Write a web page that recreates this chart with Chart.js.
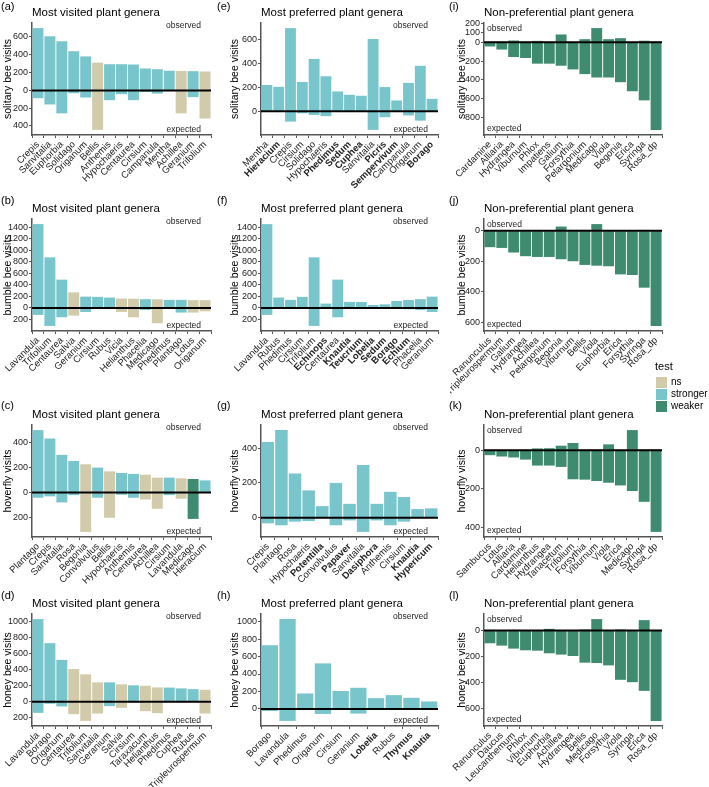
<!DOCTYPE html>
<html>
<head>
<meta charset="utf-8">
<script src="https://cdn.jsdelivr.net/npm/chart.js@4.4.0/dist/chart.umd.min.js"></script>
<style>
  body { margin: 0; background: #fff; }
  #page { position: relative; width: 709px; height: 787px; overflow: hidden; font-family: "Liberation Sans", Arial, sans-serif; color: #000; }
  canvas { position: absolute; }
  .tag { position: absolute; font-size: 11px; }
  .legend-title { position: absolute; font-size: 11px; }
  .key { position: absolute; width: 11px; height: 11px; }
  .key-label { position: absolute; font-size: 10px; }
</style>
</head>
<body>
<div id="page"></div>
<script>
// ---- data ----
// solitary bees
const aGenera = ['Crepis', 'Sanvitalia', 'Euphorbia', 'Solidago', 'Origanum', 'Bellis', 'Anthemis', 'Hypochaeris', 'Centaurea', 'Cirsium', 'Campanula', 'Mentha', 'Achillea', 'Geranium', 'Trifolium'];
const aObserved = [700, 608, 552, 440, 382, 312, 294, 294, 291, 246, 238, 221, 219, 216, 212];
const aExpected = [88, 158, 258, 32, 80, 444, 110, 42, 110, 18, 36, 6, 258, 76, 316];
const aTest = ['stronger', 'stronger', 'stronger', 'stronger', 'stronger', 'ns', 'stronger', 'stronger', 'stronger', 'stronger', 'stronger', 'stronger', 'ns', 'stronger', 'ns'];
const aTicks = [600, 400, 200, 0, -200, -400];

const eGenera = ['Mentha', 'Hieracium', 'Crepis', 'Cirsium', 'Solidago', 'Hypochaeris', 'Phedimus', 'Sedum', 'Cuphea', 'Sanvitalia', 'Picris', 'Sempervivum', 'Campanula', 'Origanum', 'Borago'];
const eObserved = [221, 205, 700, 246, 440, 294, 166, 138, 130, 608, 203, 90, 238, 382, 104];
const eExpected = [6, 2, 88, 18, 32, 42, 3, 2, 2, 158, 51, 2, 36, 80, 2];
const eTest = eGenera.map(() => 'stronger');
const eBold = ['Hieracium', 'Phedimus', 'Sedum', 'Cuphea', 'Picris', 'Sempervivum', 'Borago'];
const eTicks = [600, 400, 200, 0];

const iGenera = ['Cardamine', 'Alliaria', 'Hydrangea', 'Viburnum', 'Phlox', 'Impatiens', 'Galium', 'Forsythia', 'Pelargonium', 'Medicago', 'Viola', 'Begonia', 'Erica', 'Syringa', 'Rosa_dp'];
const iObserved = [2, 3, 18, 4, 14, 6, 82, 5, 32, 150, 32, 43, 6, 16, 8];
const iExpected = [45, 78, 157, 168, 228, 228, 250, 289, 339, 375, 375, 425, 521, 618, 932];
const iTest = iGenera.map(() => 'weaker');
const iTicks = [200, 100, 0, -200, -400, -600, -800];

// bumble bees
const bGenera = ['Lavandula', 'Trifolium', 'Centaurea', 'Salvia', 'Geranium', 'Cirsium', 'Rubus', 'Vicia', 'Helianthus', 'Phacelia', 'Medicago', 'Phedimus', 'Plantago', 'Lotus', 'Origanum'];
const bObserved = [1452, 876, 490, 270, 196, 192, 180, 162, 160, 152, 150, 140, 140, 135, 135];
const bExpected = [121, 311, 161, 133, 69, 8, 3, 69, 161, 35, 265, 3, 80, 80, 58];
const bTest = ['stronger', 'stronger', 'stronger', 'ns', 'stronger', 'stronger', 'stronger', 'ns', 'ns', 'stronger', 'ns', 'stronger', 'stronger', 'ns', 'ns'];
const bTicks = [1400, 1200, 1000, 800, 600, 400, 200, 0, -200];

const fGenera = ['Lavandula', 'Rubus', 'Phedimus', 'Cirsium', 'Trifolium', 'Echinops', 'Centaurea', 'Knautia', 'Teucrium', 'Lobelia', 'Sedum', 'Borago', 'Echium', 'Phacelia', 'Geranium'];
const fObserved = [1452, 180, 140, 192, 876, 75, 490, 104, 104, 52, 63, 121, 138, 152, 196];
const fExpected = [121, 3, 3, 8, 311, 2, 161, 2, 2, 2, 2, 2, 22, 35, 69];
const fTest = fGenera.map(() => 'stronger');
const fBold = ['Echinops', 'Knautia', 'Teucrium', 'Lobelia', 'Sedum', 'Borago', 'Echium'];
const fTicks = [1400, 1200, 1000, 800, 600, 400, 200, 0, -200];

const jGenera = ['Ranunculus', 'Tripleurospermum', 'Galium', 'Hydrangea', 'Achillea', 'Pelargonium', 'Begonia', 'Viburnum', 'Bellis', 'Viola', 'Euphorbia', 'Erica', 'Forsythia', 'Syringa', 'Rosa_dp'];
const jObserved = [2, 2, 3, 4, 5, 5, 28, 6, 6, 44, 5, 3, 5, 6, 5];
const jExpected = [107, 112, 142, 166, 171, 171, 186, 199, 223, 228, 232, 285, 289, 372, 622];
const jTest = jGenera.map(() => 'weaker');
const jTicks = [0, -200, -400, -600];

// hoverflies
const cGenera = ['Plantago', 'Crepis', 'Sanvitalia', 'Rosa', 'Begonia', 'Convolvulus', 'Bellis', 'Hypochaeris', 'Anthemis', 'Centaurea', 'Achillea', 'Cirsium', 'Lavandula', 'Medicago', 'Hieracium'];
const cObserved = [503, 435, 303, 254, 227, 200, 170, 157, 149, 143, 119, 119, 114, 108, 97];
const cExpected = [43, 32, 81, 22, 319, 43, 205, 19, 43, 57, 132, 22, 51, 214, 2];
const cTest = ['stronger', 'stronger', 'stronger', 'stronger', 'ns', 'stronger', 'ns', 'stronger', 'stronger', 'ns', 'ns', 'stronger', 'ns', 'weaker', 'stronger'];
const cTicks = [400, 200, 0, -200];

const gGenera = ['Crepis', 'Plantago', 'Rosa', 'Hypochaeris', 'Potentilla', 'Convolvulus', 'Papaver', 'Sanvitalia', 'Dasiphora', 'Anthemis', 'Cirsium', 'Knautia', 'Hypericum'];
const gObserved = [435, 503, 254, 157, 67, 200, 80, 303, 80, 149, 119, 50, 54];
const gExpected = [32, 43, 22, 19, 2, 43, 15, 81, 15, 43, 22, 2, 2];
const gTest = gGenera.map(() => 'stronger');
const gBold = ['Potentilla', 'Papaver', 'Dasiphora', 'Knautia', 'Hypericum'];
const gTicks = [400, 200, 0];

const kGenera = ['Sambucus', 'Lotus', 'Alliaria', 'Cardamine', 'Helianthus', 'Hydrangea', 'Tanacetum', 'Trifolium', 'Forsythia', 'Viburnum', 'Viola', 'Erica', 'Medicago', 'Syringa', 'Rosa_dp'];
const kObserved = [2, 2, 3, 3, 9, 10, 23, 37, 4, 5, 30, 3, 104, 5, 5];
const kExpected = [26, 33, 38, 49, 80, 80, 87, 151, 153, 160, 169, 183, 212, 268, 424];
const kTest = kGenera.map(() => 'weaker');
const kTicks = [0, -200, -400];

// honey bees
const dGenera = ['Lavandula', 'Borago', 'Origanum', 'Centaurea', 'Trifolium', 'Sanvitalia', 'Geranium', 'Salvia', 'Cirsium', 'Taraxacum', 'Helianthus', 'Phedimus', 'Cuphea', 'Rubus', 'Tripleurospermum'];
const dObserved = [1030, 730, 522, 408, 342, 242, 242, 217, 205, 200, 179, 177, 167, 158, 150];
const dExpected = [138, 25, 58, 154, 238, 146, 54, 75, 10, 117, 142, 3, 3, 3, 146];
const dTest = ['stronger', 'stronger', 'stronger', 'ns', 'ns', 'ns', 'stronger', 'ns', 'stronger', 'ns', 'ns', 'stronger', 'stronger', 'stronger', 'ns'];
const dTicks = [1000, 800, 600, 400, 200, 0, -200];

const hGenera = ['Borago', 'Lavandula', 'Phedimus', 'Origanum', 'Cirsium', 'Geranium', 'Lobelia', 'Rubus', 'Thymus', 'Knautia'];
const hObserved = [730, 1030, 177, 522, 205, 242, 123, 158, 127, 85];
const hExpected = [25, 138, 3, 58, 10, 54, 2, 3, 2, 2];
const hTest = hGenera.map(() => 'stronger');
const hBold = ['Lobelia', 'Thymus', 'Knautia'];
const hTicks = [1000, 800, 600, 400, 200, 0];

const lGenera = ['Ranunculus', 'Daucus', 'Leucanthemum', 'Phlox', 'Viburnum', 'Euphorbia', 'Achillea', 'Hydrangea', 'Bellis', 'Medicago', 'Forsythia', 'Viola', 'Syringa', 'Erica', 'Rosa_dp'];
const lObserved = [5, 3, 5, 3, 3, 13, 3, 3, 8, 88, 3, 8, 3, 80, 3];
const lExpected = [98, 116, 139, 152, 155, 175, 185, 196, 247, 250, 268, 379, 397, 464, 695];
const lTest = lGenera.map(() => 'weaker');
const lTicks = [0, -200, -400, -600];

const testColors = { ns: '#d2cbab', stronger: '#79c5cc', weaker: '#3e8b6f' };

// ---- layout ----
const FONT = '"Liberation Sans", Arial, sans-serif';
const colAxis = [32, 261, 484];
const colRight = [211, 438, 662];
const colYTitle = [24, 26, 22];
const colLetter = [1, 217, 449];
const rowTop = [23, 219, 425, 614];
const rowLetter = [0, 194, 399, 589];
const plotH = 112;
const padTop = 24, padLeft = 34, padRight = 16, xBand = 64;

const page = document.getElementById('page');

// draws titles, the zero line and the observed / expected notes
const panelDeco = {
    id: 'panelDeco',
    afterDatasetsDraw(chart, args, opts) {
        const ctx = chart.ctx;
        const area = chart.chartArea;
        const y0 = chart.scales.y.getPixelForValue(0);
        ctx.save();
        ctx.strokeStyle = '#000';
        ctx.lineWidth = 2;
        ctx.beginPath();
        ctx.moveTo(area.left, y0);
        ctx.lineTo(area.right, y0);
        ctx.stroke();

        ctx.fillStyle = '#000';
        ctx.textBaseline = 'middle';
        ctx.textAlign = 'left';
        ctx.font = '11.5px ' + FONT;
        ctx.fillText(opts.title, area.left, area.top - 10);

        ctx.font = '8.5px ' + FONT;
        ctx.fillStyle = '#222';
        if (opts.side === 'right') {
            ctx.textAlign = 'right';
            ctx.fillText('observed', area.right - 10, area.top + 3);
            ctx.fillText('expected', area.right - 10, area.bottom - 5);
        } else {
            ctx.textAlign = 'left';
            ctx.fillText('observed', area.left + 3, area.top + 6);
            ctx.fillText('expected', area.left + 3, area.bottom - 6);
        }

        ctx.translate(area.left - opts.yOffset, (area.top + area.bottom) / 2);
        ctx.rotate(-Math.PI / 2);
        ctx.textAlign = 'center';
        ctx.fillStyle = '#000';
        ctx.font = '10.5px ' + FONT;
        ctx.fillText(opts.ylab, 0, 0);
        ctx.restore();
    }
};

function makePanel(p) {
    const col = p.col, row = p.row;
    const plotW = colRight[col] - colAxis[col];
    const canvas = document.createElement('canvas');
    canvas.width = plotW + padLeft + padRight;
    canvas.height = plotH + padTop + xBand;
    canvas.style.left = (colAxis[col] - padLeft) + 'px';
    canvas.style.top = (rowTop[row] - padTop) + 'px';
    page.appendChild(canvas);

    const letter = document.createElement('div');
    letter.className = 'tag';
    letter.textContent = '(' + p.id + ')';
    letter.style.left = colLetter[col] + 'px';
    letter.style.top = rowLetter[row] + 'px';
    page.appendChild(letter);

    // ggplot style limits: data range plus 5 % on each side
    const hi = Math.max(...p.obs);
    const lo = -Math.max(...p.exp);
    const pad = (hi - lo) * 0.05;

    new Chart(canvas, {
        type: 'bar',
        data: {
            labels: p.genera,
            datasets: [
                { label: 'observed', data: p.obs, backgroundColor: p.test.map(t => testColors[t]) },
                { label: 'expected', data: p.exp.map(v => -v), backgroundColor: p.test.map(t => testColors[t]) }
            ]
        },
        options: {
            responsive: false,
            animation: false,
            devicePixelRatio: 1,
            layout: { padding: { top: padTop, right: padRight, left: 0, bottom: 0 } },
            datasets: { bar: { barPercentage: 0.92, categoryPercentage: 1, borderWidth: 0 } },
            plugins: {
                legend: { display: false },
                tooltip: { enabled: false },
                panelDeco: { title: p.title, ylab: p.ylab, side: col === 2 ? 'left' : 'right', yOffset: colYTitle[col] }
            },
            scales: {
                x: {
                    stacked: true,
                    border: { display: true, color: '#555', width: 1.5 },
                    grid: { display: true, drawOnChartArea: false, tickLength: 3, color: '#555' },
                    ticks: {
                        autoSkip: false,
                        minRotation: 45,
                        maxRotation: 45,
                        padding: 1,
                        color: '#222',
                        font: (c) => ({ family: FONT, size: 9.5, weight: (p.bold || []).includes(p.genera[c.index]) ? 'bold' : 'normal' })
                    },
                    afterFit: (s) => { s.height = xBand; }
                },
                y: {
                    stacked: true,
                    min: lo - pad,
                    max: hi + pad,
                    border: { display: true, color: '#555', width: 1.5 },
                    grid: { display: true, drawOnChartArea: false, tickLength: 3, color: '#555' },
                    ticks: {
                        padding: 1,
                        color: '#222',
                        font: { family: FONT, size: 9 },
                        callback: (v) => Math.abs(v)
                    },
                    afterBuildTicks: (s) => { s.ticks = p.ticks.map(v => ({ value: v })); },
                    afterFit: (s) => { s.width = padLeft; }
                }
            }
        },
        plugins: [panelDeco]
    });
}

const panels = [
    { id: 'a', col: 0, row: 0, title: 'Most visited plant genera', ylab: 'solitary bee visits', genera: aGenera, obs: aObserved, exp: aExpected, test: aTest, ticks: aTicks },
    { id: 'e', col: 1, row: 0, title: 'Most preferred plant genera', ylab: 'solitary bee visits', genera: eGenera, obs: eObserved, exp: eExpected, test: eTest, bold: eBold, ticks: eTicks },
    { id: 'i', col: 2, row: 0, title: 'Non-preferential plant genera', ylab: 'solitary bee visits', genera: iGenera, obs: iObserved, exp: iExpected, test: iTest, ticks: iTicks },
    { id: 'b', col: 0, row: 1, title: 'Most visited plant genera', ylab: 'bumble bee visits', genera: bGenera, obs: bObserved, exp: bExpected, test: bTest, ticks: bTicks },
    { id: 'f', col: 1, row: 1, title: 'Most preferred plant genera', ylab: 'bumble bee visits', genera: fGenera, obs: fObserved, exp: fExpected, test: fTest, bold: fBold, ticks: fTicks },
    { id: 'j', col: 2, row: 1, title: 'Non-preferential plant genera', ylab: 'bumble bee visits', genera: jGenera, obs: jObserved, exp: jExpected, test: jTest, ticks: jTicks },
    { id: 'c', col: 0, row: 2, title: 'Most visited plant genera', ylab: 'hoverfly visits', genera: cGenera, obs: cObserved, exp: cExpected, test: cTest, ticks: cTicks },
    { id: 'g', col: 1, row: 2, title: 'Most preferred plant genera', ylab: 'hoverfly visits', genera: gGenera, obs: gObserved, exp: gExpected, test: gTest, bold: gBold, ticks: gTicks },
    { id: 'k', col: 2, row: 2, title: 'Non-preferential plant genera', ylab: 'hoverfly visits', genera: kGenera, obs: kObserved, exp: kExpected, test: kTest, ticks: kTicks },
    { id: 'd', col: 0, row: 3, title: 'Most visited plant genera', ylab: 'honey bee visits', genera: dGenera, obs: dObserved, exp: dExpected, test: dTest, ticks: dTicks },
    { id: 'h', col: 1, row: 3, title: 'Most preferred plant genera', ylab: 'honey bee visits', genera: hGenera, obs: hObserved, exp: hExpected, test: hTest, bold: hBold, ticks: hTicks },
    { id: 'l', col: 2, row: 3, title: 'Non-preferential plant genera', ylab: 'honey bee visits', genera: lGenera, obs: lObserved, exp: lExpected, test: lTest, ticks: lTicks }
];
panels.forEach(makePanel);

// legend
const legendTitle = document.createElement('div');
legendTitle.className = 'legend-title';
legendTitle.textContent = 'test';
legendTitle.style.left = '655px';
legendTitle.style.top = '360px';
page.appendChild(legendTitle);
['ns', 'stronger', 'weaker'].forEach((name, i) => {
    const key = document.createElement('div');
    key.className = 'key';
    key.style.background = testColors[name];
    key.style.left = '656px';
    key.style.top = (377 + i * 12) + 'px';
    page.appendChild(key);
    const lab = document.createElement('div');
    lab.className = 'key-label';
    lab.textContent = name;
    lab.style.left = '671px';
    lab.style.top = (376 + i * 12) + 'px';
    page.appendChild(lab);
});
</script>
</body>
</html>
